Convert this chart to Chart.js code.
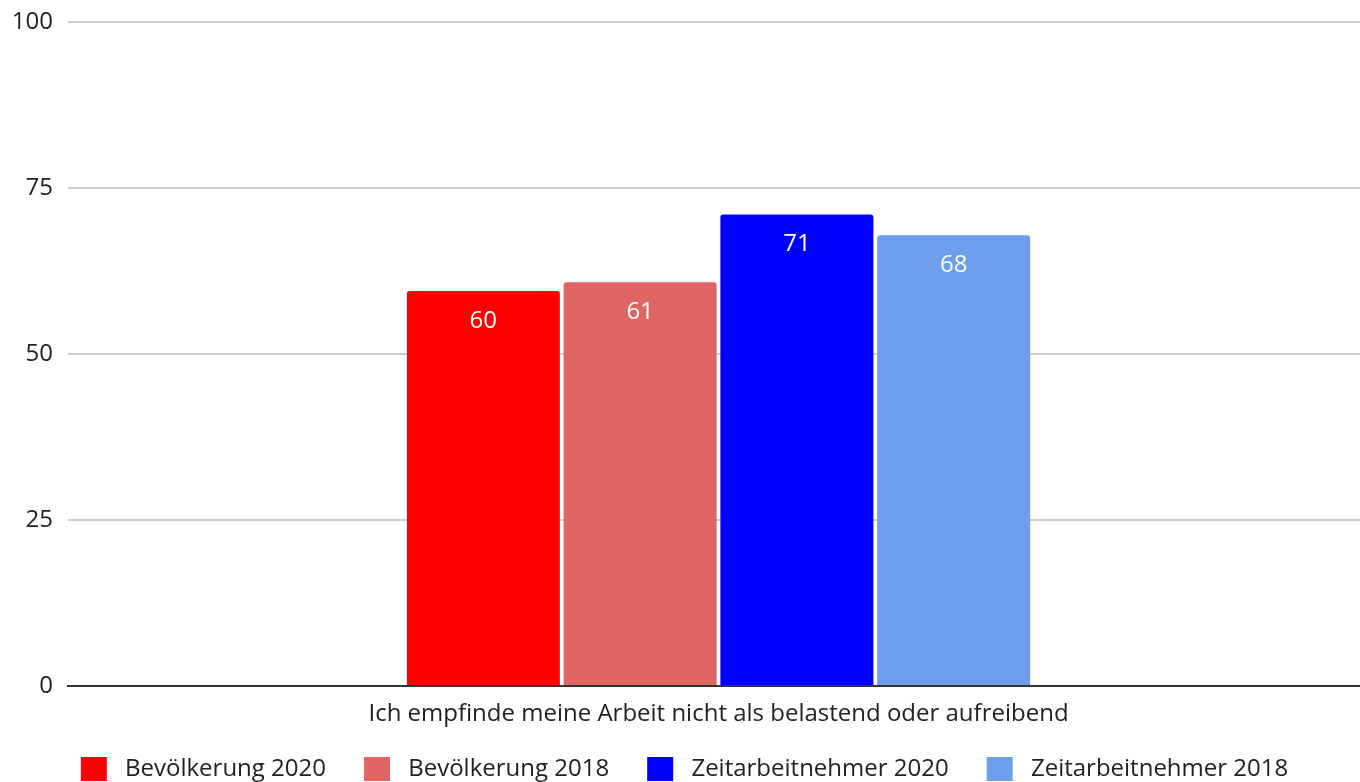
<!DOCTYPE html>
<html>
<head>
<meta charset="utf-8">
<script src="https://cdn.jsdelivr.net/npm/chart.js@4"></script>
<style>
  html, body { margin: 0; padding: 0; background: #fff; overflow: hidden; }
  #wrap { width: 1369px; height: 791px; position: relative; }
</style>
</head>
<body>
<div id="wrap"><canvas id="chart"></canvas></div>
<script>
const categories = ['Ich empfinde meine Arbeit nicht als belastend oder aufreibend'];
const seriesNames = ['Bevölkerung 2020', 'Bevölkerung 2018', 'Zeitarbeitnehmer 2020', 'Zeitarbeitnehmer 2018'];
const bev2020 = [59.5];
const bev2018 = [60.8];
const zeit2020 = [71.0];
const zeit2018 = [67.9];
const yTicks = [0, 25, 50, 75, 100];
const colors = ['#ff0000', '#e06666', '#0000ff', '#6d9eeb'];

const FONT = 'Open Sans';

// white value labels inside the top of each bar
const valueLabels = {
    id: 'valueLabels',
    afterLayout(chart) {
        // let the category label hang below the x scale box without being clipped
        chart.scales.x.bottom = chart.height;
    },
    afterDatasetsDraw(chart) {
        const ctx = chart.ctx;
        ctx.save();
        ctx.fillStyle = '#ffffff';
        ctx.font = '24px "' + FONT + '"';
        ctx.textAlign = 'center';
        ctx.textBaseline = 'middle';
        chart.data.datasets.forEach((ds, i) => {
            chart.getDatasetMeta(i).data.forEach((bar, j) => {
                ctx.fillText(Math.round(ds.data[j]), bar.x, bar.y + 30);
            });
        });
        ctx.restore();
    }
};

const seriesData = [bev2020, bev2018, zeit2020, zeit2018];

new Chart(document.getElementById('chart').getContext('2d'), {
    type: 'bar',
    data: {
        labels: categories,
        datasets: seriesNames.map((name, i) => ({
            label: name,
            data: seriesData[i],
            backgroundColor: colors[i],
            borderRadius: { topLeft: 3, topRight: 3 },
            borderSkipped: 'bottom',
            categoryPercentage: 0.482,
            barPercentage: 0.976
        }))
    },
    options: {
        responsive: true,
        maintainAspectRatio: false,
        animation: false,
        layout: { padding: { top: 22, right: 0, left: 0, bottom: 0 } },
        plugins: {
            tooltip: { enabled: false },
            legend: {
                position: 'bottom',
                labels: {
                    boxWidth: 26,
                    boxHeight: 24,
                    padding: 38,
                    color: '#222',
                    font: { family: FONT, size: 24 },
                    generateLabels(chart) {
                        // a leading space widens the gap between swatch and text
                        return Chart.defaults.plugins.legend.labels.generateLabels(chart)
                            .map(item => Object.assign(item, { text: ' ' + item.text }));
                    }
                }
            }
        },
        scales: {
            x: {
                grid: { display: false, drawTicks: false },
                border: { display: true, color: '#333', width: 2 },
                ticks: { color: '#222', padding: 14, font: { family: FONT, size: 24 } },
                afterFit(scale) { scale.height = 33; }
            },
            y: {
                min: 0,
                max: 100,
                afterBuildTicks(scale) { scale.ticks = yTicks.map(v => ({ value: v })); },
                grid: { color: '#cccccc', lineWidth: 2, drawTicks: false },
                border: { display: false },
                ticks: { color: '#222', padding: 15, font: { family: FONT, size: 24 } },
                afterFit(scale) {
                    scale.width = 68;
                    scale.paddingTop = 0;
                }
            }
        }
    },
    plugins: [valueLabels]
});
</script>
</body>
</html>
